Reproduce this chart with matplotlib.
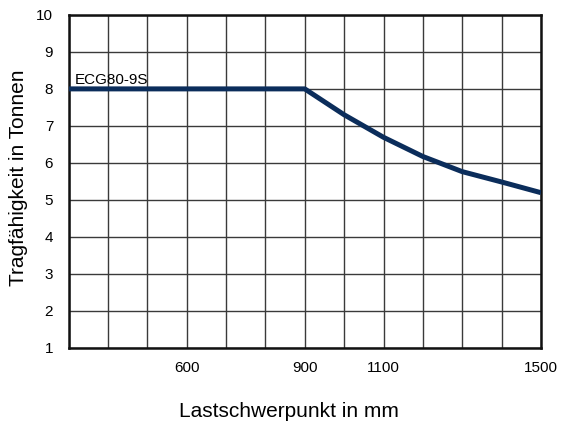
import matplotlib
matplotlib.use("Agg")
import matplotlib.pyplot as plt
import numpy as np

x_mm = [300, 900, 1000, 1100, 1200, 1300, 1400, 1500]
load_t = [8.0, 8.0, 7.30, 6.69, 6.17, 5.76, 5.48, 5.19]
series_name = "ECG80-9S"
xtick_vals = [600, 900, 1100, 1500]
ytick_vals = [1, 2, 3, 4, 5, 6, 7, 8, 9, 10]

plt.rcParams['font.family'] = ['Liberation Sans', 'DejaVu Sans']

W, H = 562, 421
fig = plt.figure(figsize=(W / 100, H / 100), dpi=100)
ax = fig.add_axes([68.5 / W, 1 - 347.5 / H, (541 - 68.5) / W, (347.5 - 15) / H])

ax.set_xlim(300, 1500)
ax.set_ylim(1, 10)
ax.set_xticks(np.arange(300, 1501, 100), minor=True)
ax.set_xticks(xtick_vals)
ax.set_yticks(ytick_vals)
ax.grid(True, which='both', axis='x', color='#3a3a3a', linewidth=1.0)
ax.grid(True, which='major', axis='y', color='#3a3a3a', linewidth=1.0)
ax.set_axisbelow(True)
ax.tick_params(which='both', length=0, labelsize=11, colors='black')
ax.tick_params(axis='x', pad=10)
ax.tick_params(axis='y', pad=11)

for s in ax.spines.values():
    s.set_linewidth(1.8)
    s.set_color('#111111')

ax.plot(x_mm, load_t, color='#0b2d5b', linewidth=3.6, solid_capstyle='butt', zorder=3)
ax.text(317, 8.135, series_name, fontsize=11, ha='left', va='baseline', zorder=4)

fig.text(288.5 / W, 1 - 417 / H, "Lastschwerpunkt in mm", fontsize=15,
         ha='center', va='baseline')
fig.text(28 / W, 1 - 178 / H, "Tragfähigkeit in Tonnen", fontsize=15,
         rotation=90, ha='right', va='center')

fig.savefig("out.png", dpi=100)
